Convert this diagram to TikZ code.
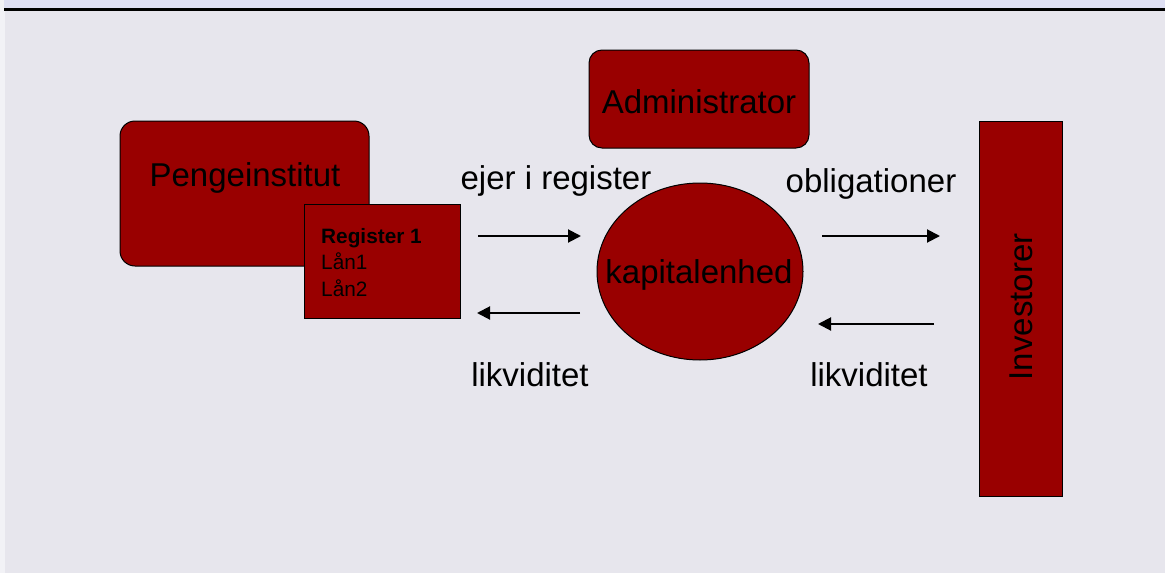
\documentclass[tikz,border=0pt]{standalone}
\usepackage{fontspec}
\setmainfont{Liberation Sans}
\usetikzlibrary{shapes.geometric,arrows.meta}
\definecolor{pagebg}{HTML}{E7E6ED}
\definecolor{bandbg}{HTML}{DEDFF3}
\definecolor{edgebg}{HTML}{F2F2F6}
\definecolor{boxred}{HTML}{990000}
\tikzset{
  redbox/.style={draw=black, line width=1pt, fill=boxred, inner sep=0pt},
  bigtext/.style={font=\fontsize{33}{39}\selectfont, text=black, inner sep=0pt},
  smalltext/.style={anchor=base west, inner sep=0pt, font=\fontsize{20.8}{26}\selectfont},
  flow/.style={line width=2pt, -{Triangle[length=13pt,width=13pt]}}
}
\begin{document}
\begin{tikzpicture}[x=1pt,y=-1pt]
  \useasboundingbox (0,0) rectangle (1165,573);
  % page background, heading band and rule
  \fill[pagebg] (0,0) rectangle (1165,573);
  \fill[edgebg] (0,0) rectangle (5,573);
  \fill[bandbg] (4,0) rectangle (1165,8);
  \fill[black] (4,8) rectangle (1165,10.5);

  % boxes
  \draw[redbox, rounded corners=15pt] (120,121) rectangle (369,266);
  \node[bigtext, anchor=base] (penge) at (245,186) {Pengeinstitut};

  \draw[redbox] (304,204) rectangle (460,318);
  \node[smalltext, font=\fontsize{20.8}{26}\selectfont\bfseries] (reg) at (321,243) {Register 1};
  \node[smalltext] (laan1) at (321,269) {Lån1};
  \node[smalltext] (laan2) at (321,296) {Lån2};

  \draw[redbox, rounded corners=13pt] (589,50) rectangle (809,148);
  \node[bigtext, anchor=base] (admin) at (699,113) {Administrator};

  \draw[redbox] (700,271.5) ellipse [x radius=103, y radius=88.5];
  \node[bigtext, anchor=base] (kap) at (699,283) {kapitalenhed};

  \draw[redbox] (979,121) rectangle (1062,496);
  \node[bigtext, rotate=90] (inv) at (1021,307) {Investorer};

  % flow labels
  \node[bigtext, anchor=base] (ejer) at (556,189) {ejer i register};
  \node[bigtext, anchor=base] (oblig) at (871,192) {obligationer};
  \node[bigtext, anchor=base] (likvL) at (530,386) {likviditet};
  \node[bigtext, anchor=base] (likvR) at (869,386) {likviditet};

  % arrow ends
  \coordinate (a1s) at (478,236);  \coordinate (a1e) at (581,236);
  \coordinate (a2s) at (580,313);  \coordinate (a2e) at (477,313);
  \coordinate (a3s) at (822,236);  \coordinate (a3e) at (940,236);
  \coordinate (a4s) at (934,324);  \coordinate (a4e) at (818,324);

  \draw[flow] (a1s) -- (a1e);
  \draw[flow] (a2s) -- (a2e);
  \draw[flow] (a3s) -- (a3e);
  \draw[flow] (a4s) -- (a4e);
\end{tikzpicture}
\end{document}
